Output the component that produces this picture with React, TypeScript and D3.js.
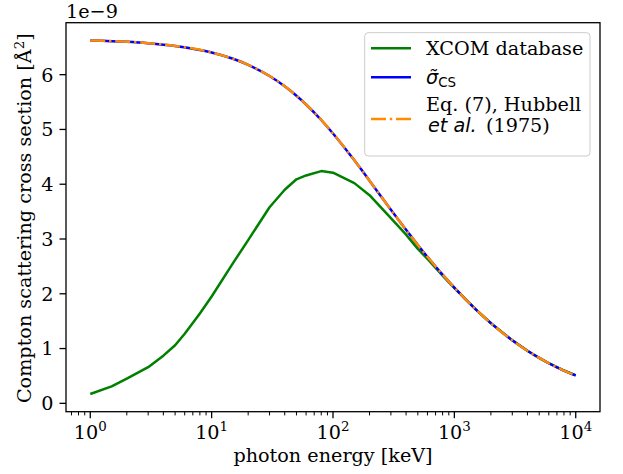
import React, { useRef, useEffect } from 'react';
import * as d3 from 'd3';

// XCOM grid, photon energy in keV
const xcomEnergies = [1, 1.5, 2, 3, 4, 5, 6, 8, 10, 15, 20, 30, 40, 50, 60, 80, 100, 150, 200, 300, 400, 500, 600, 800, 1000, 1500, 2000, 3000, 4000, 5000, 6000, 8000, 10000];
// cross sections in units of 1e-9 Å^2
const xcomValues = [0.17, 0.31, 0.45, 0.66, 0.87, 1.06, 1.27, 1.64, 1.95, 2.56, 2.98, 3.58, 3.90, 4.09, 4.16, 4.24, 4.21, 4.02, 3.80, 3.38, 3.08, 2.82, 2.635, 2.333, 2.105, 1.714, 1.462, 1.150, 0.959, 0.828, 0.732, 0.599, 0.510];

const csEnergies = [1, 2, 3, 5, 10, 15, 20, 30, 40, 50, 60, 80, 100, 150, 200, 250, 300, 400, 500, 600, 700, 800, 1000, 1500, 2000, 3000, 4000, 5000, 6000, 7000, 8000, 10000];
const csValues = [6.626, 6.601, 6.575, 6.525, 6.405, 6.290, 6.180, 5.975, 5.787, 5.614, 5.456, 5.173, 4.927, 4.436, 4.065, 3.772, 3.535, 3.167, 2.892, 2.675, 2.498, 2.350, 2.112, 1.716, 1.464, 1.151, 0.960, 0.829, 0.732, 0.658, 0.599, 0.510];
const hubbellValues = [6.626, 6.601, 6.575, 6.525, 6.405, 6.290, 6.180, 5.975, 5.787, 5.614, 5.456, 5.173, 4.927, 4.436, 4.065, 3.772, 3.535, 3.167, 2.892, 2.675, 2.498, 2.350, 2.112, 1.716, 1.464, 1.151, 0.960, 0.829, 0.732, 0.658, 0.599, 0.510];

const xMajor = [1, 10, 100, 1000, 10000];
const xExponents = ['0', '1', '2', '3', '4'];
const yTicks = [0, 1, 2, 3, 4, 5, 6];

const SERIF = '"DejaVu Serif", serif';
const SANS = '"DejaVu Sans", sans-serif';
const FS = 19.2;

const App = () => {
    const svgRef = useRef<SVGSVGElement>(null);

    useEffect(() => {
        const svg = d3.select(svgRef.current);
        svg.selectAll('*').remove();

        const left = 66, right = 600, top = 22.7, bottom = 411.7;

        const x = d3.scaleLog().domain([10 ** -0.2, 10 ** 4.2]).range([left, right]);
        const all = [...xcomValues, ...csValues, ...hubbellValues];
        const lo = d3.min(all) as number, hi = d3.max(all) as number;
        const pad = (hi - lo) * 0.05;
        const y = d3.scaleLinear().domain([lo - pad, hi + pad]).range([bottom, top]);

        svg.append('rect').attr('width', 623).attr('height', 474).attr('fill', 'white');

        // curves
        const lineLin = d3.line<[number, number]>().x(d => x(d[0])).y(d => y(d[1]));
        const lineSmooth = d3.line<[number, number]>().x(d => x(d[0])).y(d => y(d[1])).curve(d3.curveMonotoneX);

        const g = svg.append('g');
        g.append('path')
            .attr('d', lineLin(xcomEnergies.map((e, i) => [e, xcomValues[i]] as [number, number])))
            .attr('fill', 'none').attr('stroke', '#008000').attr('stroke-width', 2.5)
            .attr('stroke-linejoin', 'round');
        g.append('path')
            .attr('d', lineSmooth(csEnergies.map((e, i) => [e, csValues[i]] as [number, number])))
            .attr('fill', 'none').attr('stroke', '#0000ff').attr('stroke-width', 2.5);
        g.append('path')
            .attr('d', lineSmooth(csEnergies.map((e, i) => [e, hubbellValues[i]] as [number, number])))
            .attr('fill', 'none').attr('stroke', '#ff8c00').attr('stroke-width', 2.5)
            .attr('stroke-dasharray', '15,3.8,2.4,3.8');

        // x axis ticks
        const minors: number[] = [];
        for (let p = -1; p <= 4; p++) {
            for (let m = 2; m <= 9; m++) {
                const v = m * 10 ** p;
                if (v >= 10 ** -0.2 && v <= 10 ** 4.2) minors.push(v);
            }
        }
        const xAxis = svg.append('g').attr('transform', `translate(0, ${bottom})`);
        xAxis.selectAll('.minor').data(minors).enter().append('line')
            .attr('x1', d => x(d)).attr('x2', d => x(d)).attr('y1', 0).attr('y2', 3.7)
            .attr('stroke', 'black').attr('stroke-width', 1);
        xAxis.selectAll('.major').data(xMajor).enter().append('line')
            .attr('x1', d => x(d)).attr('x2', d => x(d)).attr('y1', 0).attr('y2', 6.5)
            .attr('stroke', 'black').attr('stroke-width', 1.3);
        const xl = xAxis.selectAll('.lab').data(xMajor).enter().append('text')
            .attr('x', d => x(d)).attr('y', 27)
            .attr('text-anchor', 'middle')
            .style('font-family', SERIF).style('font-size', `${FS}px`).attr('fill', 'black');
        xl.append('tspan').text('10');
        xl.append('tspan').attr('dy', -7.5).style('font-size', '13.4px').text((d, i) => xExponents[i]);

        // y axis
        const yAxis = svg.append('g').attr('transform', `translate(${left}, 0)`);
        yAxis.selectAll('line').data(yTicks).enter().append('line')
            .attr('x1', -6.5).attr('x2', 0).attr('y1', d => y(d)).attr('y2', d => y(d))
            .attr('stroke', 'black').attr('stroke-width', 1.3);
        yAxis.selectAll('text').data(yTicks).enter().append('text')
            .attr('x', -12.5).attr('y', d => y(d)).attr('dy', '0.36em')
            .attr('text-anchor', 'end')
            .style('font-family', SERIF).style('font-size', `${FS}px`).text(d => d);

        // frame
        svg.append('rect')
            .attr('x', left).attr('y', top).attr('width', right - left).attr('height', bottom - top)
            .attr('fill', 'none').attr('stroke', 'black').attr('stroke-width', 1.3);

        // offset text
        svg.append('text').attr('x', 66).attr('y', 18.3)
            .style('font-family', SERIF).style('font-size', `${FS}px`).text('1e\u22129');

        // axis labels
        svg.append('text').attr('x', (left + right) / 2).attr('y', 462)
            .attr('text-anchor', 'middle')
            .style('font-family', SERIF).style('font-size', `${FS}px`).text('photon energy [keV]');
        const yl = svg.append('text')
            .attr('transform', `translate(31, ${(top + bottom) / 2 + 1}) rotate(-90)`)
            .attr('text-anchor', 'middle')
            .style('font-family', SERIF).style('font-size', `${FS}px`);
        yl.append('tspan').text('Compton scattering cross section [Å');
        yl.append('tspan').attr('dy', -7.5).style('font-size', '13.4px').text('2');
        yl.append('tspan').attr('dy', 7.5).text(']');

        // legend
        const lg = svg.append('g');
        lg.append('rect')
            .attr('x', 364.7).attr('y', 32.7).attr('width', 225.3).attr('height', 123.3)
            .attr('rx', 3.5).attr('fill', 'white').attr('fill-opacity', 0.8)
            .attr('stroke', '#cccccc').attr('stroke-width', 1);
        const rows = [
            { yy: 48.3, color: '#008000', dash: null },
            { yy: 77.3, color: '#0000ff', dash: null },
            { yy: 119, color: '#ff8c00', dash: '15,3.8,2.4,3.8' },
        ];
        rows.forEach(r => {
            const l = lg.append('line').attr('x1', 371).attr('x2', 411).attr('y1', r.yy).attr('y2', r.yy)
                .attr('stroke', r.color).attr('stroke-width', 2.5);
            if (r.dash) l.attr('stroke-dasharray', r.dash);
        });
        lg.append('text').attr('x', 426).attr('y', 55)
            .style('font-family', SERIF).style('font-size', `${FS}px`).text('XCOM database');
        const sig = lg.append('text').attr('x', 426).attr('y', 83.5)
            .style('font-family', SANS).style('font-size', `${FS}px`);
        sig.append('tspan').style('font-style', 'italic').text('\u03c3\u0303');
        sig.append('tspan').attr('dy', 3.5).style('font-size', '13.4px').text('CS');
        lg.append('text').attr('x', 426).attr('y', 110.7)
            .style('font-family', SERIF).style('font-size', `${FS}px`).text('Eq. (7), Hubbell');
        const t2 = lg.append('text').attr('x', 426).attr('y', 131.7)
            .style('font-family', SERIF).style('font-size', `${FS}px`);
        t2.append('tspan').attr('x', 428).style('font-family', SANS).style('font-style', 'italic').text('et al.');
        t2.append('tspan').attr('x', 486).text('(1975)');
    }, []);

    return <svg ref={svgRef} width={623} height={474} style={{ position: 'absolute', left: 0, top: 0 }}></svg>;
};

export default App;
